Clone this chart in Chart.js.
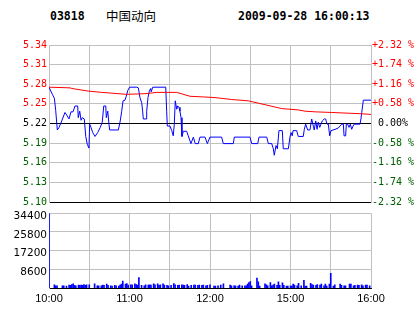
<!DOCTYPE html>
<html>
<head>
<meta charset="utf-8">
<script src="https://cdn.jsdelivr.net/npm/chart.js@4.4.0/dist/chart.umd.min.js"></script>
<style>
  body { margin: 0; background: #fff; width: 414px; height: 314px; position: relative; overflow: hidden; }
  .hdr { position: absolute; top: 8px; font: bold 11.5px "DejaVu Sans Mono", monospace; color: #000; line-height: 16px; }
  .name { position: absolute; top: 7px; left: 106px; font: 12.5px "Noto Sans CJK SC", sans-serif; line-height: 18px; }
  canvas { position: absolute; left: 0; }
</style>
</head>
<body>
<div class="hdr" style="left:50px">03818</div>
<div class="name">中国动向</div>
<div class="hdr" style="left:238px">2009-09-28 16:00:13</div>
<canvas id="vol_chart" width="414" height="109" style="top:205px"></canvas>
<canvas id="price_chart" width="414" height="210" style="top:0"></canvas>
<script>
// previous close and axis labels
const prevClose = 5.22;
const pctSteps = [-2.32, -1.74, -1.16, -0.58, 0, 0.58, 1.16, 1.74, 2.32];
const leftLabels = ["5.10", "5.13", "5.16", "5.19", "5.22", "5.25", "5.28", "5.31", "5.34"];
const rightLabels = ["-2.32 %", "-1.74 %", "-1.16 %", "-0.58 %", " 0.00%", "+0.58 %", "+1.16 %", "+1.74 %", "+2.32 %"];

// time axis (minutes of trading since 10:00)
const tickMinutes = [0, 60, 120, 180, 240];
const tickTimes = ["10:00", "11:00", "12:00", "15:00", "16:00"];

// price line
const priceMinutes = [0, 2.5, 4, 5, 6.2, 7.5, 9.5, 11.9, 13.2, 14.9, 16.4, 17.9, 19.4, 21.4, 21.8, 22.9, 23.9, 24.8, 26.3, 27.4,
  28.5, 29.8, 30.3, 31.3, 32.6, 34.3, 36.3, 38.2, 39.7, 40.8, 42.3, 42.7, 43.8, 44.7, 45.2, 51.7, 53.1, 54.2, 55.2, 56.6,
  57.6, 58.7, 60.1, 65.4, 66.6, 67.8, 69.1, 69.8, 70.3, 72.3, 72.8, 73.8, 74.8, 75.8, 76.2, 77.3, 87.0, 87.7, 88.2, 90.2,
  91.5, 92.6, 93.4, 94.1, 95.2, 95.9, 96.9, 97.6, 98.4, 99.1, 100.1, 102.6, 103.8, 105.8, 107.6, 109.0, 111.3, 112.5, 116.3, 118.0,
  120.0, 128.7, 129.9, 137.4, 138.1, 149.8, 151.1, 155.6, 156.5, 162.3, 163.5, 166.0, 167.2, 167.9, 169.2, 170.2, 171.4, 173.9, 174.6, 178.4,
  179.6, 180.4, 181.3, 181.9, 184.6, 185.8, 189.5, 190.3, 191.3, 192.8, 194.5, 195.8, 197.0, 197.7, 198.8, 199.8, 200.7, 201.8, 202.7, 203.7,
  205.2, 206.2, 207.2, 208.2, 209.2, 210.2, 213.2, 215.6, 218.2, 219.4, 219.9, 221.1, 221.6, 222.6, 223.6, 224.6, 225.6, 226.6, 227.5, 231.8,
  232.5, 233.1, 234.3, 240];
const priceValues = [5.276, 5.265, 5.259, 5.240, 5.210, 5.214, 5.224, 5.237, 5.233, 5.227, 5.238, 5.238, 5.247, 5.247, 5.229, 5.239, 5.225, 5.229, 5.227, 5.200,
  5.188, 5.182, 5.219, 5.214, 5.206, 5.200, 5.206, 5.214, 5.222, 5.247, 5.247, 5.229, 5.239, 5.219, 5.210, 5.210, 5.224, 5.239, 5.255, 5.256,
  5.262, 5.271, 5.276, 5.276, 5.275, 5.260, 5.252, 5.239, 5.227, 5.227, 5.239, 5.260, 5.270, 5.274, 5.269, 5.276, 5.276, 5.239, 5.216, 5.216,
  5.209, 5.201, 5.219, 5.255, 5.242, 5.247, 5.245, 5.239, 5.229, 5.200, 5.208, 5.208, 5.201, 5.189, 5.199, 5.189, 5.189, 5.199, 5.199, 5.189,
  5.199, 5.199, 5.189, 5.189, 5.199, 5.199, 5.189, 5.189, 5.199, 5.199, 5.189, 5.189, 5.181, 5.171, 5.186, 5.181, 5.209, 5.209, 5.181, 5.181,
  5.199, 5.206, 5.201, 5.209, 5.209, 5.200, 5.200, 5.211, 5.219, 5.210, 5.210, 5.227, 5.216, 5.210, 5.224, 5.211, 5.222, 5.214, 5.219, 5.224,
  5.227, 5.227, 5.219, 5.219, 5.201, 5.209, 5.211, 5.213, 5.219, 5.219, 5.201, 5.201, 5.219, 5.219, 5.214, 5.219, 5.211, 5.216, 5.219, 5.219,
  5.227, 5.237, 5.256, 5.256];

// average price line
const avgMinutes = [0, 15.7, 17.1, 29.3, 39.3, 57.9, 71.6, 80.3, 95.2, 105.1, 115.0, 123.7, 136.2, 148.5, 161.0, 173.4, 185.6, 190.8, 198.3, 210.7, 233.1, 240];
const avgValues = [5.276, 5.275, 5.274, 5.270, 5.268, 5.265, 5.266, 5.268, 5.268, 5.262, 5.261, 5.260, 5.257, 5.255, 5.249, 5.243, 5.241, 5.239, 5.238, 5.237, 5.235, 5.234];

// volume bars
const volTicks = [8600, 17200, 25800, 34400];
const volMinutes = [0, 4, 5, 6, 10, 11, 13, 15, 16, 17, 18, 19, 20, 22, 23, 24, 25, 26, 27, 28,
  30, 34, 36, 37, 39, 40, 41, 43, 44, 46, 47, 49, 50, 52, 53, 54, 55, 57, 58, 59,
  61, 62, 64, 65, 66, 67, 69, 71, 72, 74, 75, 76, 78, 79, 81, 82, 83, 85, 86, 88,
  89, 91, 93, 94, 96, 97, 99, 100, 101, 103, 104, 106, 108, 109, 111, 112, 114, 115, 117, 118,
  120, 123, 124, 126, 128, 130, 135, 136, 138, 139, 141, 142, 144, 146, 147, 148, 149, 150, 151, 155,
  156, 157, 161, 162, 163, 165, 166, 167, 168, 170, 171, 172, 174, 175, 177, 178, 180, 181, 182, 183,
  185, 186, 188, 190, 191, 192, 195, 196, 197, 199, 200, 202, 203, 205, 206, 207, 209, 210, 212, 213,
  217, 218, 220, 221, 224, 225, 227, 228, 230, 231, 233, 234, 236, 237, 239];
const volValues = [34400, 1470, 1030, 1030, 1030, 1030, 880, 1320, 1180, 1620, 1910, 1180, 1030, 1320, 1180, 1320, 1180, 1620, 1180, 1470,
  1470, 1910, 1030, 1030, 1030, 1320, 1180, 1760, 1180, 1030, 880, 1180, 1030, 880, 1320, 1760, 3230, 1760, 2060, 1320,
  1470, 1470, 1910, 1620, 1320, 4850, 1180, 1030, 1470, 1320, 1470, 1320, 1910, 1470, 1910, 1180, 1470, 1910, 1320, 1180,
  1030, 1180, 2060, 1470, 1180, 1320, 1470, 1320, 1180, 1620, 880, 1180, 1320, 1320, 1180, 1320, 1180, 1320, 1030, 1180,
  1470, 880, 880, 1030, 1320, 1910, 1320, 1030, 1030, 1030, 880, 1320, 1030, 1030, 1030, 1760, 2500, 2940, 1030, 4560,
  2790, 880, 1910, 1470, 1030, 2500, 1030, 1320, 1760, 1180, 2790, 1180, 2350, 1180, 880, 880, 1030, 880, 1760, 1320,
  1030, 2200, 1030, 3530, 880, 880, 2200, 1620, 1320, 1180, 1620, 1320, 1760, 1030, 1760, 880, 1760, 6760, 880, 1470,
  1760, 1180, 1030, 1030, 1760, 1760, 1030, 1180, 1320, 1180, 1470, 1030, 1320, 1320, 1030];

const GRID = "#c0c0c0";
const RED = "#ff0000";
const GREEN = "#006000";

function labelColor(i) {
  if (i < 4) return GREEN;
  if (i > 4) return RED;
  return "#000";
}

const priceTickValues = pctSteps.map((p) => prevClose * (1 + p / 100));
const setPriceTicks = (scale) => {
  scale.ticks = priceTickValues.map((v) => ({ value: v }));
};

new Chart(document.getElementById("price_chart"), {
  type: "line",
  data: {
    datasets: [
      {
        label: "price",
        data: priceMinutes.map((m, i) => ({ x: m, y: priceValues[i] })),
        borderColor: "#0000ff",
        borderWidth: 1,
        pointRadius: 0,
        tension: 0,
        order: 1,
      },
      {
        label: "average",
        data: avgMinutes.map((m, i) => ({ x: m, y: avgValues[i] })),
        borderColor: RED,
        borderWidth: 1,
        pointRadius: 0,
        tension: 0,
        order: 0,
      },
    ],
  },
  options: {
    responsive: false,
    animation: false,
    events: [],
    layout: { padding: { top: 45, bottom: 7 } },
    plugins: { legend: { display: false }, tooltip: { enabled: false } },
    scales: {
      x: {
        type: "linear",
        min: 0,
        max: 240,
        ticks: { display: false, stepSize: 30 },
        grid: { color: GRID, drawTicks: false },
        border: { color: "#000" },
        afterFit: (s) => { s.height = 0; },
      },
      y: {
        position: "left",
        min: priceTickValues[0],
        max: priceTickValues[priceTickValues.length - 1],
        afterBuildTicks: setPriceTicks,
        afterFit: (s) => { s.width = 49; },
        grid: {
          drawTicks: false,
          color: (ctx) => (ctx.index === 4 || ctx.index === 0 ? "#000" : GRID),
        },
        border: { color: GRID },
        ticks: {
          autoSkip: false,
          padding: 2,
          font: { family: "DejaVu Sans Mono", size: 10 },
          color: (ctx) => labelColor(ctx.index),
          callback: (v, i) => leftLabels[i],
        },
      },
      y2: {
        position: "right",
        min: priceTickValues[0],
        max: priceTickValues[priceTickValues.length - 1],
        afterBuildTicks: setPriceTicks,
        afterFit: (s) => { s.width = 43; },
        grid: { display: false, drawTicks: false },
        border: { color: GRID },
        ticks: {
          autoSkip: false,
          padding: 1,
          font: { family: "DejaVu Sans Mono", size: 10 },
          color: (ctx) => labelColor(ctx.index),
          callback: (v, i) => rightLabels[i],
        },
      },
    },
  },
});

new Chart(document.getElementById("vol_chart"), {
  type: "bar",
  data: {
    datasets: [
      {
        label: "volume",
        data: volMinutes.map((m, i) => ({ x: m, y: volValues[i] })),
        backgroundColor: "#0000ff",
        barThickness: 1,
      },
    ],
  },
  options: {
    responsive: false,
    animation: false,
    events: [],
    layout: { padding: { top: 5, right: 43 } },
    plugins: { legend: { display: false }, tooltip: { enabled: false } },
    scales: {
      x: {
        type: "linear",
        min: 0,
        max: 240,
        offset: false,
        grid: { color: GRID, drawTicks: false, offset: false },
        border: { color: "#000" },
        afterFit: (s) => { s.height = 26; },
        ticks: {
          stepSize: 30,
          autoSkip: false,
          maxRotation: 0,
          padding: 4,
          color: "#000",
          font: { family: "Liberation Sans", size: 11 },
          callback: (v) => {
            const k = tickMinutes.indexOf(v);
            return k >= 0 ? tickTimes[k] : "";
          },
        },
      },
      y: {
        min: 0,
        max: 34400,
        afterBuildTicks: (s) => { s.ticks = volTicks.map((v) => ({ value: v })); },
        afterFit: (s) => { s.width = 49; },
        grid: { color: GRID, drawTicks: false },
        border: { color: GRID },
        ticks: {
          autoSkip: false,
          padding: 2,
          labelOffset: 3,
          color: "#000",
          font: { family: "DejaVu Sans", size: 10.5 },
          callback: (v) => String(v),
        },
      },
    },
  },
});
</script>
</body>
</html>
